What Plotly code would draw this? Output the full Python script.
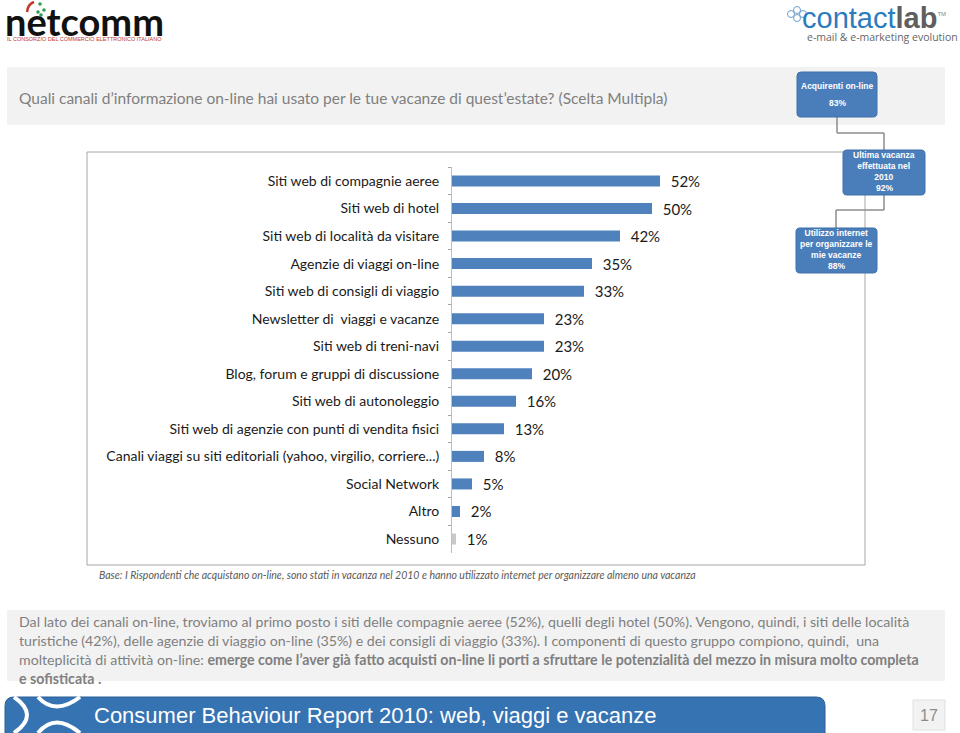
import plotly.graph_objects as go

W, H = 960, 733

categories = [
    "Siti web di compagnie aeree",
    "Siti web di hotel",
    "Siti web di località da visitare",
    "Agenzie di viaggi on-line",
    "Siti web di consigli di viaggio",
    "Newsletter di  viaggi e vacanze",
    "Siti web di treni-navi",
    "Blog, forum e gruppi di discussione",
    "Siti web di autonoleggio",
    "Siti web di agenzie con punti di vendita fisici",
    "Canali viaggi su siti editoriali (yahoo, virgilio, corriere...)",
    "Social Network",
    "Altro",
    "Nessuno",
]
values = [52, 50, 42, 35, 33, 23, 23, 20, 16, 13, 8, 5, 2, 1]
bar_colors = ["#4f81bd"] * 13 + ["#c9c9c9"]

title_text = "Quali canali d\u2019informazione on-line hai usato per le tue vacanze di quest\u2019estate? (Scelta Multipla)"
base_note = "Base: I Rispondenti che acquistano on-line, sono stati in vacanza nel 2010 e hanno utilizzato internet per organizzare almeno una vacanza"
paragraph_lines = [
    "Dal lato dei canali on-line, troviamo al primo posto i siti delle compagnie aeree (52%), quelli degli hotel (50%). Vengono, quindi, i siti delle località",
    "turistiche (42%), delle agenzie di viaggio on-line (35%) e dei consigli di viaggio (33%). I componenti di questo gruppo compiono, quindi,  una",
    "molteplicità di attività on-line: <b>emerge come l\u2019aver già fatto acquisti on-line li porti a sfruttare le potenzialità del mezzo in misura molto completa</b>",
    "<b>e sofisticata .</b>",
]
box_texts = [
    ("Acquirenti on-line", "83%"),
    ("Ultima vacanza<br>effettuata nel<br>2010", "92%"),
    ("Utilizzo internet<br>per organizzare le<br>mie vacanze", "88%"),
]
footer_title = "Consumer Behaviour Report 2010: web, viaggi e vacanze"
page_number = "17"


def X(px):
    return px / W


def Y(py):
    return 1 - py / H


def rrect_path(x0, y0, x1, y1, r):
    pts = [
        ("M", [(x0 + r, y0)]),
        ("L", [(x1 - r, y0)]),
        ("Q", [(x1, y0), (x1, y0 + r)]),
        ("L", [(x1, y1 - r)]),
        ("Q", [(x1, y1), (x1 - r, y1)]),
        ("L", [(x0 + r, y1)]),
        ("Q", [(x0, y1), (x0, y1 - r)]),
        ("L", [(x0, y0 + r)]),
        ("Q", [(x0, y0), (x0 + r, y0)]),
    ]
    s = ""
    for cmd, ps in pts:
        s += cmd + " " + " ".join(f"{X(a):.5f},{Y(b):.5f}" for a, b in ps) + " "
    return s + "Z"


LABEL_FONT = "Lato, 'Open Sans', sans-serif"

fig = go.Figure()
fig.add_trace(go.Bar(
    x=values,
    y=categories,
    orientation="h",
    marker=dict(color=bar_colors, line=dict(width=0)),
    width=0.4,
    text=[f"\u00a0\u00a0{v}%" for v in values],
    textposition="outside",
    constraintext="none",
    textfont=dict(family=LABEL_FONT, size=15, color="#1a1a1a"),
    cliponaxis=False,
    hoverinfo="skip",
))

shapes = []
# header grey band
shapes.append(dict(type="rect", xref="paper", yref="paper", x0=X(7), x1=X(945), y0=Y(125), y1=Y(67),
                   fillcolor="#f2f2f2", line=dict(width=0), layer="below"))
# paragraph grey band
shapes.append(dict(type="rect", xref="paper", yref="paper", x0=X(7), x1=X(945), y0=Y(681), y1=Y(610),
                   fillcolor="#f2f2f2", line=dict(width=0), layer="below"))
# chart frame
shapes.append(dict(type="rect", xref="paper", yref="paper", x0=X(87), x1=X(865), y0=Y(565), y1=Y(152),
                   fillcolor="rgba(0,0,0,0)", line=dict(color="#a6a6a6", width=1), layer="below"))
# connectors
conn = "#8c8c8c"
for (ax0, ay0, ax1, ay1) in [(837, 117, 837, 133), (837, 133, 884, 133), (884, 133, 884, 150),
                             (884, 195, 884, 210), (884, 210, 836, 210), (836, 210, 836, 228)]:
    shapes.append(dict(type="line", xref="paper", yref="paper", x0=X(ax0), x1=X(ax1), y0=Y(ay0), y1=Y(ay1),
                       line=dict(color=conn, width=1.5)))
# blue boxes
box_geo = [(797, 72, 877, 117), (843, 150, 925, 195), (796, 228, 877, 273)]
for (bx0, by0, bx1, by1) in box_geo:
    shapes.append(dict(type="path", xref="paper", yref="paper", path=rrect_path(bx0, by0, bx1, by1, 4),
                       fillcolor="#4a7ebb", line=dict(color="#3f6fa8", width=1)))
# footer banner
shapes.append(dict(type="path", xref="paper", yref="paper", path=rrect_path(5, 697, 825, 742, 9),
                   fillcolor="#3673b3", line=dict(color="#2d5f96", width=1)))
# banner logo arcs
shapes.append(dict(type="path", xref="paper", yref="paper",
                   path=f"M {X(14)},{Y(697)} Q {X(40)},{Y(715)} {X(14)},{Y(733)}",
                   line=dict(color="white", width=4)))
shapes.append(dict(type="path", xref="paper", yref="paper",
                   path=f"M {X(38)},{Y(697)} Q {X(55)},{Y(716)} {X(80)},{Y(697)}",
                   line=dict(color="white", width=4)))
shapes.append(dict(type="path", xref="paper", yref="paper",
                   path=f"M {X(38)},{Y(733)} Q {X(55)},{Y(712)} {X(80)},{Y(733)}",
                   line=dict(color="white", width=4)))
# page number box
shapes.append(dict(type="rect", xref="paper", yref="paper", x0=X(913), x1=X(945), y0=Y(730), y1=Y(700),
                   fillcolor="#f2f2f2", line=dict(color="#e0e0e0", width=1)))
# contactlab circles icon
for (cx, cy) in [(791, 14), (797, 10), (797, 18), (803, 14)]:
    shapes.append(dict(type="circle", xref="paper", yref="paper", x0=X(cx - 3.5), x1=X(cx + 3.5),
                       y0=Y(cy + 3.5), y1=Y(cy - 3.5), line=dict(color="#6a9fcc", width=1)))
# netcomm decorations (red swoosh and green stars above the "e")
shapes.append(dict(type="path", xref="paper", yref="paper",
                   path=f"M {X(27)},{Y(12)} Q {X(28)},{Y(4)} {X(34)},{Y(2)}",
                   line=dict(color="#c0392b", width=2.5)))
for (cx, cy) in [(40, 4), (44, 10), (38, 12), (41, 15)]:
    shapes.append(dict(type="circle", xref="paper", yref="paper", x0=X(cx - 1.8), x1=X(cx + 1.8),
                       y0=Y(cy + 1.8), y1=Y(cy - 1.8), fillcolor="#2e9e4f", line=dict(width=0)))

annotations = []
annotations.append(dict(xref="paper", yref="paper", x=X(17), y=Y(98), xanchor="left", yanchor="middle",
                        text=title_text, showarrow=False,
                        font=dict(family=LABEL_FONT, size=15.5, color="#7f7f7f")))
annotations.append(dict(xref="paper", yref="paper", x=X(97), y=Y(575), xanchor="left", yanchor="middle",
                        text=f"<i>{base_note}</i>", showarrow=False,
                        font=dict(family=LABEL_FONT, size=10.5, color="#595959")))
for i, line in enumerate(paragraph_lines):
    annotations.append(dict(xref="paper", yref="paper", x=X(17), y=Y(621 + 19 * i), xanchor="left",
                            yanchor="middle", text=line, showarrow=False,
                            font=dict(family=LABEL_FONT, size=14.2, color="#7f7f7f")))
# box texts
box_text_pos = [((837, 86), (837, 103)), ((884, 166), (884, 188)), ((836, 244), (836, 266))]
for (label, pct), ((lx, ly), (px_, py_)) in zip(box_texts, box_text_pos):
    annotations.append(dict(xref="paper", yref="paper", x=X(lx), y=Y(ly), xanchor="center", yanchor="middle",
                            text=f"<b>{label}</b>", showarrow=False,
                            font=dict(family="Liberation Sans, Arial", size=8.5, color="white")))
    annotations.append(dict(xref="paper", yref="paper", x=X(px_), y=Y(py_), xanchor="center", yanchor="middle",
                            text=f"<b>{pct}</b>", showarrow=False,
                            font=dict(family="Liberation Sans, Arial", size=8.5, color="white")))
# footer title
annotations.append(dict(xref="paper", yref="paper", x=X(92), y=Y(715), xanchor="left", yanchor="middle",
                        text=footer_title, showarrow=False,
                        font=dict(family="Liberation Sans, Arial", size=22, color="white")))
annotations.append(dict(xref="paper", yref="paper", x=X(929), y=Y(715), xanchor="center", yanchor="middle",
                        text=page_number, showarrow=False,
                        font=dict(family="Liberation Sans, Arial", size=16, color="#8c8c8c")))
# netcomm logo
annotations.append(dict(xref="paper", yref="paper", x=X(3), y=Y(21), xanchor="left", yanchor="middle",
                        text="<b>netcomm</b>", showarrow=False,
                        font=dict(family=LABEL_FONT, size=38, color="#111111")))
annotations.append(dict(xref="paper", yref="paper", x=X(5), y=Y(39), xanchor="left", yanchor="middle",
                        text="IL CONSORZIO DEL COMMERCIO ELETTRONICO ITALIANO", showarrow=False,
                        font=dict(family="Liberation Sans, Arial", size=5.5, color="#c0392b")))
# contactlab logo
annotations.append(dict(xref="paper", yref="paper", x=X(800), y=Y(18), xanchor="left", yanchor="middle",
                        text="<span style='color:#2b7bbf'>contact</span><b><span style='color:#5f5f5f'>lab</span></b>"
                             "<sup><span style='font-size:6px;color:#888'>TM</span></sup>",
                        showarrow=False, font=dict(family="Liberation Sans, Arial", size=29, color="#2b7bbf")))
annotations.append(dict(xref="paper", yref="paper", x=X(805), y=Y(37), xanchor="left", yanchor="middle",
                        text="e-mail & e-marketing evolution", showarrow=False,
                        font=dict(family="Open Sans, sans-serif", size=10.5, color="#666666")))

fig.update_layout(
    width=W, height=H,
    margin=dict(l=0, r=0, t=0, b=0),
    paper_bgcolor="white",
    plot_bgcolor="rgba(0,0,0,0)",
    showlegend=False,
    bargap=0.6,
    shapes=shapes,
    annotations=annotations,
    xaxis=dict(domain=[X(452), X(852)], range=[0, 100], visible=False, fixedrange=True),
    yaxis=dict(
        domain=[Y(552.8), Y(167.2)],
        type="category",
        categoryorder="array",
        categoryarray=categories,
        autorange="reversed",
        ticks="outside",
        tickson="boundaries",
        ticklen=3,
        tickcolor="#a6a6a6",
        showline=True,
        linecolor="#bfbfbf",
        linewidth=1,
        showgrid=False,
        zeroline=False,
        ticklabelstandoff=9,
        tickfont=dict(family=LABEL_FONT, size=14, color="#1a1a1a"),
        fixedrange=True,
    ),
)

fig.write_html(
    "out.html",
    config={"displayModeBar": False},
    post_script="document.body.style.margin='0';document.body.style.padding='0';document.body.style.overflow='hidden';",
)
